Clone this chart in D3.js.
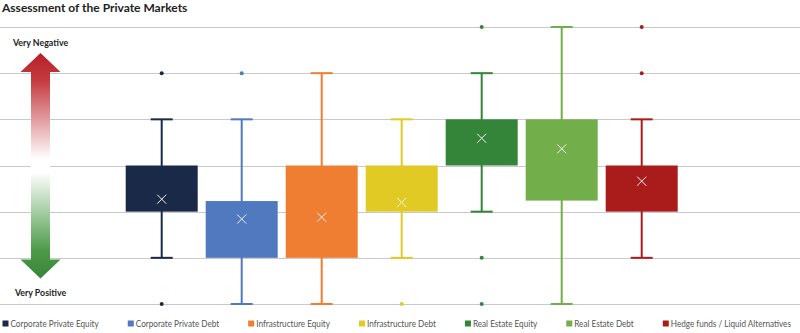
<!DOCTYPE html>
<html>
<head>
<meta charset="utf-8">
<script src="https://cdn.jsdelivr.net/npm/d3@7"></script>
<style>
  html, body { margin: 0; padding: 0; background: #fff; }
  svg { display: block; }
  text { font-family: Lato, "Open Sans", sans-serif; }
</style>
</head>
<body>
<svg id="chart" width="800" height="333"></svg>
<script>
// Assessment scale: 1 = very positive, 7 = very negative
const categories = [
  "Corporate Private Equity",
  "Corporate Private Debt",
  "Infrastructure Equity",
  "Infrastructure Debt",
  "Real Estate Equity",
  "Real Estate Debt",
  "Hedge funds / Liquid Alternatives"
];
const colors = ["#1b2948", "#5079c0", "#ef7e32", "#e2ca24", "#34843a", "#72ae4a", "#aa1c1c"];
const whiskerLow  = [2, 1, 1, 2, 3, 1, 2];
const q1          = [3, 2, 2, 3, 4, 3.24, 3];
const q3          = [4, 3.23, 4, 4, 5, 5, 4];
const whiskerHigh = [5, 5, 6, 5, 6, 7, 5];
const means       = [3.27, 2.84, 2.88, 3.2, 4.59, 4.36, 3.66];
const outliers    = [[6, 1], [6], [], [1], [7, 2, 1], [], [7, 6]];
const gridValues  = [1, 2, 3, 4, 5, 6, 7];

const svg = d3.select("#chart");
const W = 800;

const y = d3.scaleLinear().domain([1, 7]).range([304, 27]);
const x = d3.scaleBand().domain(categories).range([121.7, 681.7]).padding(0);
const boxW = x.bandwidth() * 0.9;
const capW = 22;

// Title
svg.append("text")
  .attr("x", 2).attr("y", 12)
  .attr("font-size", 12).attr("font-weight", 700).attr("fill", "#222")
  .text("Assessment of the Private Markets");

// Grid lines
svg.append("g").selectAll("line").data(gridValues).join("line")
  .attr("x1", 0).attr("x2", W)
  .attr("y1", d => Math.round(y(d)) + 0.5).attr("y2", d => Math.round(y(d)) + 0.5)
  .attr("stroke", "#c9c9c9").attr("stroke-width", 1);

// Sentiment arrow on the left
const defs = svg.append("defs");
const grad = defs.append("linearGradient").attr("id", "sentiment")
  .attr("x1", 0).attr("y1", 0).attr("x2", 0).attr("y2", 1);
[[0, "#b81f28"], [0.12, "#c43a3f"], [0.47, "#ffffff"], [0.53, "#ffffff"], [0.88, "#4a9a47"], [1, "#378536"]]
  .forEach(([o, c]) => grad.append("stop").attr("offset", o).attr("stop-color", c));

const ax = 40.5, tipTop = 53, tipBot = 278.5, headH = 19, headHalf = 20, shaftHalf = 9.5;
const arrowPath = d3.path();
arrowPath.moveTo(ax, tipTop);
arrowPath.lineTo(ax + headHalf, tipTop + headH);
arrowPath.lineTo(ax + shaftHalf, tipTop + headH);
arrowPath.lineTo(ax + shaftHalf, tipBot - headH);
arrowPath.lineTo(ax + headHalf, tipBot - headH);
arrowPath.lineTo(ax, tipBot);
arrowPath.lineTo(ax - headHalf, tipBot - headH);
arrowPath.lineTo(ax - shaftHalf, tipBot - headH);
arrowPath.lineTo(ax - shaftHalf, tipTop + headH);
arrowPath.lineTo(ax - headHalf, tipTop + headH);
arrowPath.closePath();
svg.append("path").attr("d", arrowPath.toString()).attr("fill", "url(#sentiment)");

svg.append("text").attr("x", 40.5).attr("y", 45.5).attr("text-anchor", "middle")
  .attr("font-size", 8.8).attr("font-weight", 700).attr("fill", "#222").text("Very Negative");
svg.append("text").attr("x", 40.5).attr("y", 296).attr("text-anchor", "middle")
  .attr("font-size", 8.8).attr("font-weight", 700).attr("fill", "#222").text("Very Positive");

// Box plots
const boxes = svg.append("g").selectAll("g").data(categories).join("g")
  .attr("transform", d => `translate(${x(d) + x.bandwidth() / 2},0)`);

boxes.append("line")
  .attr("x1", 0).attr("x2", 0)
  .attr("y1", (d, i) => y(whiskerLow[i])).attr("y2", (d, i) => y(whiskerHigh[i]))
  .attr("stroke", (d, i) => colors[i]).attr("stroke-width", 2);

boxes.selectAll("line.cap").data((d, i) => [[whiskerLow[i], i], [whiskerHigh[i], i]]).join("line")
  .attr("class", "cap")
  .attr("x1", -capW / 2).attr("x2", capW / 2)
  .attr("y1", d => y(d[0])).attr("y2", d => y(d[0]))
  .attr("stroke", d => colors[d[1]]).attr("stroke-width", 2);

boxes.append("rect")
  .attr("x", -boxW / 2).attr("width", boxW)
  .attr("y", (d, i) => y(q3[i])).attr("height", (d, i) => y(q1[i]) - y(q3[i]))
  .attr("fill", (d, i) => colors[i]);

boxes.append("path")
  .attr("d", (d, i) => {
    const my = y(means[i]), s = 4.5;
    return `M${-s},${my - s}L${s},${my + s}M${-s},${my + s}L${s},${my - s}`;
  })
  .attr("stroke", "#f4f4f4").attr("stroke-width", 1).attr("fill", "none");

boxes.selectAll("circle").data((d, i) => outliers[i].map(v => [v, i])).join("circle")
  .attr("cx", 0).attr("cy", d => y(d[0])).attr("r", 2)
  .attr("fill", d => colors[d[1]]);

// Legend (labels set in a slightly condensed face)
const legend = svg.append("g").attr("transform", "translate(0,326.5)");
const condense = 0.86;
let lx = 2.5;
categories.forEach((c, i) => {
  const g = legend.append("g").attr("transform", `translate(${lx},0)`);
  g.append("rect").attr("x", 0).attr("y", -6).attr("width", 6).attr("height", 6).attr("fill", colors[i]);
  const t = g.append("text").attr("transform", `translate(8,0) scale(${condense},1)`)
    .attr("font-size", 9.5).attr("fill", "#555").text(c);
  lx += 8 + t.node().getComputedTextLength() * condense + 29;
});
</script>
</body>
</html>
